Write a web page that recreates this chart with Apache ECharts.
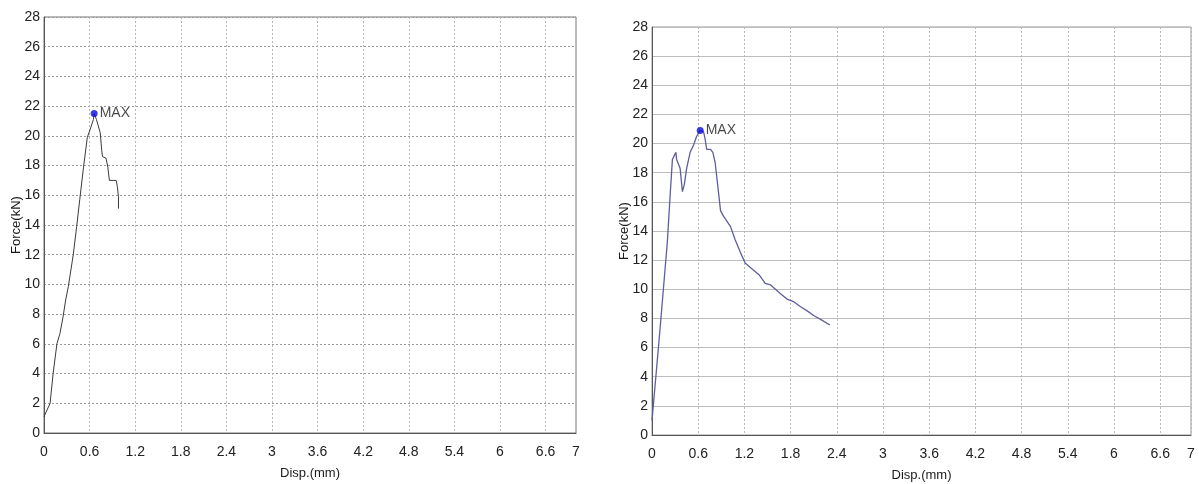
<!DOCTYPE html>
<html>
<head>
<meta charset="utf-8">
<script src="https://cdn.jsdelivr.net/npm/echarts@6.0.0/dist/echarts.min.js"></script>
<style>
  html, body { margin: 0; padding: 0; background: #fff; }
  #chart { width: 1199px; height: 484px; }
</style>
</head>
<body>
<div id="chart"></div>
<script>
// ============ Data ============
const xTicks = [0, 0.6, 1.2, 1.8, 2.4, 3, 3.6, 4.2, 4.8, 5.4, 6, 6.6, 7]

// specimen 1 (left)
const leftDisp = [0, 0.01, 0.08, 0.12, 0.17, 0.21, 0.25, 0.285, 0.32, 0.385, 0.43, 0.47, 0.52, 0.57, 0.605, 0.65, 0.66,
  0.69, 0.74, 0.76, 0.77, 0.815, 0.84, 0.86, 0.91, 0.95, 0.965, 0.98, 0.98]
const leftForce = [1.1, 1.0, 2.0, 4.0, 6.0, 6.7, 7.8, 8.95, 9.85, 12.0, 13.9, 15.7, 17.9, 19.9, 20.4, 21.1, 21.5,
  21.1, 20.2, 19.0, 18.6, 18.5, 17.9, 17.0, 17.0, 17.0, 16.6, 15.9, 15.1]

// specimen 2 (right)
const rightDisp = [0, 0.1, 0.2, 0.235, 0.265, 0.29, 0.31, 0.32, 0.34, 0.365, 0.395, 0.42, 0.45, 0.495, 0.54, 0.58, 0.626,
  0.67, 0.69, 0.71, 0.76, 0.79, 0.82, 0.85, 0.89, 0.93, 0.97, 1.02, 1.08, 1.15, 1.21, 1.30, 1.39, 1.47, 1.54, 1.67,
  1.76, 1.84, 1.93, 2.02, 2.1, 2.2, 2.31]
const rightForce = [1.0, 7.0, 13.3, 16.4, 18.9, 19.0, 19.4, 18.9, 19.0, 18.3, 16.7, 17.2, 18.3, 19.4, 19.9, 20.5, 20.9,
  20.8, 20.3, 19.6, 19.6, 19.4, 18.7, 17.3, 15.4, 15.0, 14.7, 14.3, 13.4, 12.5, 11.8, 11.4, 11.0, 10.4, 10.3, 9.7,
  9.3, 9.15, 8.8, 8.5, 8.2, 7.9, 7.55]

// ============ Helpers ============
const font = 'Liberation Sans, Arial, sans-serif'
const pairs = (xs, ys) => xs.map((x, i) => [x, ys[i]])
const maxPoint = (xs, ys) => {
  let k = 0
  ys.forEach((v, i) => { if (v > ys[k]) k = i })
  return [xs[k], ys[k]]
}

function xAxisOf(gridIndex) {
  return {
    gridIndex,
    type: 'value',
    min: 0,
    max: 7,
    interval: 0.6,
    name: 'Disp.(mm)',
    nameLocation: 'middle',
    nameGap: 34,
    nameTextStyle: { color: '#1a1a1a', fontSize: 13, fontFamily: font },
    axisLine: { lineStyle: { color: '#555' } },
    axisTick: { show: false },
    axisLabel: {
      color: '#222', fontSize: 14, fontFamily: font, margin: 12,
      formatter: v => String(+v.toFixed(1)),
    },
    splitLine: { show: true, lineStyle: { color: '#b8b8b8', type: [2, 2] } },
  }
}

function yAxisOf(gridIndex, hColor, hType) {
  return {
    gridIndex,
    type: 'value',
    min: 0,
    max: 28,
    interval: 2,
    name: 'Force(kN)',
    nameLocation: 'middle',
    nameGap: 21,
    nameMoveOverlap: false,
    nameTextStyle: { color: '#1a1a1a', fontSize: 13, fontFamily: font },
    axisLine: { show: true, lineStyle: { color: '#555' } },
    axisTick: { show: false },
    axisLabel: { color: '#222', fontSize: 14, fontFamily: font, margin: 4 },
    splitLine: { show: true, lineStyle: { color: hColor, type: hType } },
  }
}

function maxSeries(idx, pt) {
  return {
    type: 'scatter',
    xAxisIndex: idx,
    yAxisIndex: idx,
    data: [pt],
    symbolSize: 7,
    itemStyle: { color: '#0a0ae0' },
    label: {
      show: true, position: 'right', distance: 2, formatter: 'MAX',
      color: '#1a1a1a', fontSize: 14, fontFamily: font,
    },
    z: 5,
  }
}

// ============ Chart ============
const chart = echarts.init(document.getElementById('chart'))
chart.setOption({
  animation: false,
  grid: [
    { left: 44, top: 17, width: 532, height: 416, show: true, borderColor: '#777', borderWidth: 1, outerBoundsMode: 'none' },
    { left: 652, top: 27, width: 539, height: 408, show: true, borderColor: '#999', borderWidth: 1, outerBoundsMode: 'none' },
  ],
  xAxis: [xAxisOf(0), xAxisOf(1)],
  yAxis: [yAxisOf(0, '#9a9a9a', [2, 2]), yAxisOf(1, '#bdbdbd', 'solid')],
  series: [
    {
      type: 'line',
      xAxisIndex: 0,
      yAxisIndex: 0,
      data: pairs(leftDisp, leftForce),
      showSymbol: false,
      lineStyle: { color: '#3a3a3a', width: 1 },
    },
    {
      type: 'line',
      xAxisIndex: 1,
      yAxisIndex: 1,
      data: pairs(rightDisp, rightForce),
      showSymbol: false,
      lineStyle: { color: '#5e5e9e', width: 1.3 },
    },
    maxSeries(0, maxPoint(leftDisp, leftForce)),
    maxSeries(1, maxPoint(rightDisp, rightForce)),
  ],
})
</script>
</body>
</html>
